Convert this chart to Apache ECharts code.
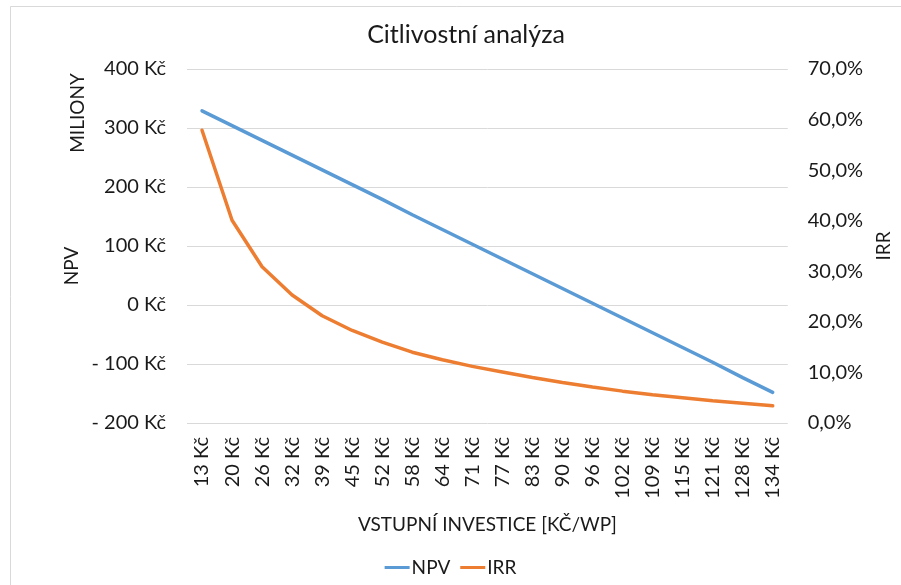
<!DOCTYPE html>
<html>
<head>
<meta charset="utf-8">
<script src="https://cdn.jsdelivr.net/npm/echarts@6/dist/echarts.min.js"></script>
<style>
  html, body { margin: 0; padding: 0; background: #fff; }
  #chart { width: 901px; height: 585px; }
</style>
</head>
<body>
<div id="chart"></div>
<script>
// investice v Kč/Wp
var categories = ['13 Kč', '20 Kč', '26 Kč', '32 Kč', '39 Kč', '45 Kč', '52 Kč', '58 Kč', '64 Kč', '71 Kč',
  '77 Kč', '83 Kč', '90 Kč', '96 Kč', '102 Kč', '109 Kč', '115 Kč', '121 Kč', '128 Kč', '134 Kč'];
// NPV v milionech Kč
var npvValues = [329, 304, 279, 254, 229, 204, 179, 153, 128, 103, 78, 53, 28, 3, -22, -47, -72, -97, -123, -148];
// IRR v %
var irrValues = [57.9, 40.1, 30.9, 25.3, 21.2, 18.3, 16.0, 14.0, 12.5, 11.2, 10.1, 9.0, 8.0, 7.1, 6.3, 5.6, 5.0, 4.4, 3.9, 3.4];

var font = 'Lato';
var textColor = '#1a1a1a';

var chart = echarts.init(document.getElementById('chart'), null, { renderer: 'canvas' });

var option = {
  backgroundColor: '#fff',
  animation: false,
  textStyle: { fontFamily: font, color: textColor },
  title: {
    text: 'Citlivostní analýza',
    left: 461,
    top: 17,
    textAlign: 'center',
    textStyle: { fontFamily: font, fontSize: 25, fontWeight: 'normal', color: textColor }
  },
  graphic: [
    {
      type: 'rect',
      shape: { x: 10.5, y: 6.5, width: 900, height: 600 },
      style: { fill: 'none', stroke: '#d9d9d9', lineWidth: 1 },
      silent: true
    },
    {
      type: 'text',
      x: 78, y: 113, rotation: Math.PI / 2,
      style: { text: 'MILIONY', fontFamily: font, fontSize: 19, fill: textColor, align: 'center', verticalAlign: 'middle' }
    },
    {
      type: 'text',
      x: 72, y: 266, rotation: Math.PI / 2,
      style: { text: 'NPV', fontFamily: font, fontSize: 19, fill: textColor, align: 'center', verticalAlign: 'middle' }
    }
  ],
  legend: {
    data: ['NPV', 'IRR'],
    left: 'center',
    top: 553,
    icon: 'rect',
    itemWidth: 25,
    itemHeight: 3,
    itemGap: 10,
    textStyle: { fontFamily: font, fontSize: 19, color: textColor, padding: [0, 0, 0, -3] }
  },
  grid: { left: 187, right: 108, top: 69, bottom: 162 },
  xAxis: {
    type: 'category',
    data: categories,
    boundaryGap: true,
    name: 'VSTUPNÍ INVESTICE [KČ/WP]',
    nameLocation: 'middle',
    nameGap: 92,
    nameTextStyle: { fontFamily: font, fontSize: 19, color: textColor },
    axisLine: { show: false },
    axisTick: { show: false },
    axisLabel: { rotate: 90, margin: 14, fontFamily: font, fontSize: 20, color: textColor, interval: 0 }
  },
  yAxis: [
    {
      type: 'value',
      min: -200,
      max: 400,
      interval: 100,
      axisLine: { show: false },
      axisTick: { show: false },
      splitLine: { lineStyle: { color: '#d9d9d9', width: 1 } },
      axisLabel: {
        margin: 21,
        fontFamily: font, fontSize: 20, color: textColor,
        formatter: function (v) { return v < 0 ? '- ' + Math.abs(v) + ' Kč' : v + ' Kč'; }
      }
    },
    {
      type: 'value',
      min: 0,
      max: 70,
      interval: 10,
      name: 'IRR',
      nameLocation: 'middle',
      nameRotate: 90,
      nameGap: 82,
      nameTextStyle: { fontFamily: font, fontSize: 19, color: textColor },
      axisLine: { show: false },
      axisTick: { show: false },
      splitLine: { show: false },
      axisLabel: {
        margin: 20,
        fontFamily: font, fontSize: 20, color: textColor,
        formatter: function (v) { return v.toFixed(1).replace('.', ',') + '%'; }
      }
    }
  ],
  series: [
    {
      name: 'NPV',
      type: 'line',
      yAxisIndex: 0,
      data: npvValues,
      symbol: 'none',
      lineStyle: { color: '#5b9bd5', width: 3.5, cap: 'round' },
      itemStyle: { color: '#5b9bd5' }
    },
    {
      name: 'IRR',
      type: 'line',
      yAxisIndex: 1,
      data: irrValues,
      symbol: 'none',
      lineStyle: { color: '#ed7d31', width: 3.5, cap: 'round' },
      itemStyle: { color: '#ed7d31' }
    }
  ]
};

chart.setOption(option);
</script>
</body>
</html>
